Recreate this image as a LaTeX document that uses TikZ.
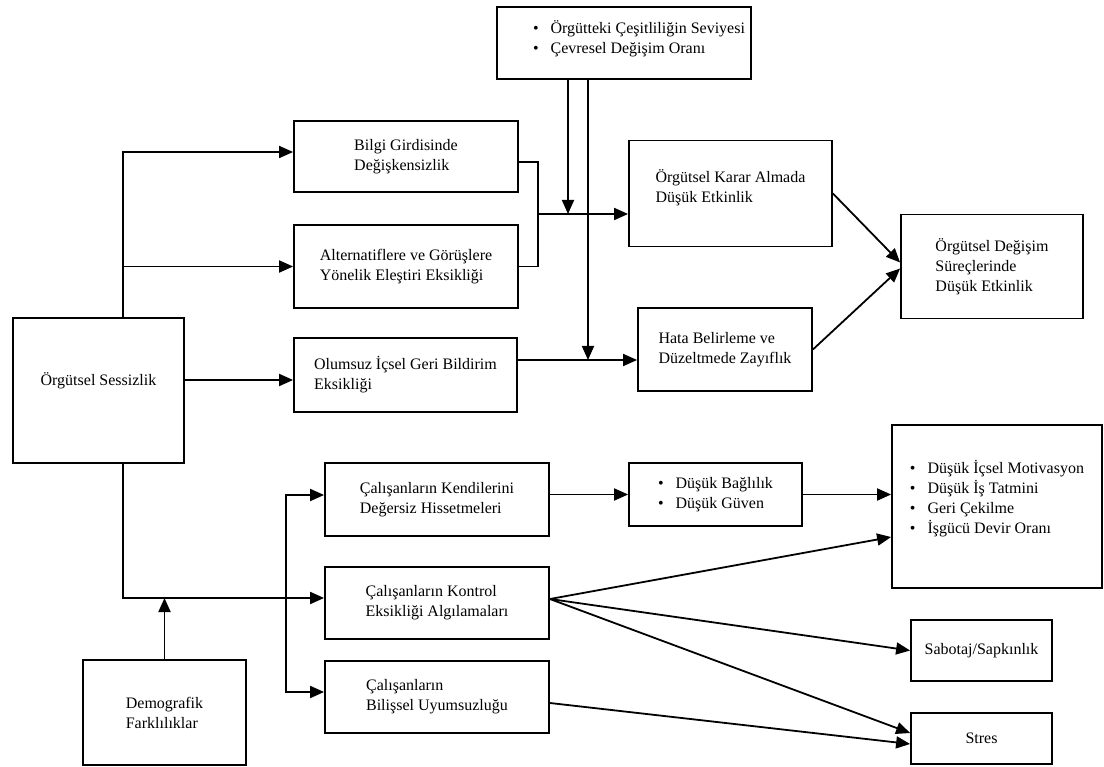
\documentclass[tikz,border=0pt]{standalone}
\usepackage{fontspec}
\setmainfont{Liberation Serif}
\usetikzlibrary{arrows.meta, calc}
\newcommand{\madde}{\textbullet\hspace{12pt}}

\begin{document}
\begin{tikzpicture}[x=1pt, y=-1pt, >={Triangle[length=14pt, width=12pt]}, line width=1.8pt, every node/.style={font=\fontsize{16}{20}\selectfont}, kutu/.style={draw, align=left, inner sep=2pt}]
  \useasboundingbox (0,0) rectangle (1104,767);
  \node[kutu, minimum width=254pt, minimum height=72pt, text depth=12pt] (ortam) at (624,43) {\hspace*{30pt}\madde Örgütteki Çeşitliliğin Seviyesi\\\hspace*{30pt}\madde Çevresel Değişim Oranı};
  \node[kutu, minimum width=224pt, minimum height=71pt] (bilgi) at (406,156.5) {Bilgi Girdisinde\\Değişkensizlik};
  \node[kutu, minimum width=224pt, minimum height=83pt] (alt) at (406,266.5) {Alternatiflere ve Görüşlere\\Yönelik Eleştiri Eksikliği};
  \node[kutu, minimum width=223pt, minimum height=74pt] (olum) at (405.5,375) {Olumsuz İçsel Geri Bildirim\\Eksikliği};
  \node[kutu, minimum width=171pt, minimum height=145pt, text depth=23pt] (sess) at (98.5,390.5) {Örgütsel Sessizlik};
  \node[kutu, minimum width=203pt, minimum height=106pt, text depth=15pt] (karar) at (730.5,193.5) {Örgütsel Karar Almada\\Düşük Etkinlik};
  \node[kutu, minimum width=174pt, minimum height=83pt] (hata) at (725,349.5) {Hata Belirleme ve\\Düzeltmede Zayıflık};
  \node[kutu, minimum width=182pt, minimum height=104pt] (degisim) at (992,266.5) {Örgütsel Değişim\\Süreçlerinde\\Düşük Etkinlik};
  \node[kutu, minimum width=224pt, minimum height=73pt] (kendi) at (437,499.5) {Çalışanların Kendilerini\\Değersiz Hissetmeleri};
  \node[kutu, minimum width=224pt, minimum height=72pt] (kontrol) at (437,603) {Çalışanların Kontrol\\Eksikliği Algılamaları};
  \node[kutu, minimum width=224pt, minimum height=72pt] (bilissel) at (437,697) {Çalışanların\\Bilişsel Uyumsuzluğu};
  \node[kutu, minimum width=163pt, minimum height=105pt] (demo) at (164.5,712.5) {Demografik\\Farklılıklar};
  \node[kutu, minimum width=173pt, minimum height=63pt] (bag) at (715.5,494.5) {\madde Düşük Bağlılık\\\madde Düşük Güven};
  \node[kutu, minimum width=210pt, minimum height=163pt, text depth=20pt] (motiv) at (997,506.5) {\madde Düşük İçsel Motivasyon\\\madde Düşük İş Tatmini\\\madde Geri Çekilme\\\madde İşgücü Devir Oranı};
  \node[kutu, minimum width=141pt, minimum height=61pt] (sabotaj) at (981.5,650.5) {Sabotaj/Sapkınlık};
  \node[kutu, minimum width=141pt, minimum height=51pt] (stres) at (981.5,738.5) {Stres};

  \coordinate (sol) at (123,152);
  \coordinate (kol) at (538,214);
  \coordinate (dik1) at (568,214);
  \coordinate (dik2) at (588,360);
  \coordinate (dal) at (286,598);

  \draw[->] (sess.north -| sol) |- (sol -| bilgi.west);
  \draw[->] (sol |- alt.west) -- (alt.west);
  \draw[->] ($(sess.east)+(0,-10.5)$) -- ($(olum.west)+(0,5)$);
  \draw ($(bilgi.east)+(0,5.5)$) -| (kol) |- (alt.east);
  \draw[->] (kol) -- (kol -| karar.west);
  \draw[->] (ortam.south -| dik1) -- (dik1);
  \draw[->] (ortam.south -| dik2) -- (dik2);
  \draw[->] (olum.east |- dik2) -- (hata.west |- dik2);
  \draw[->] (karar.east) -- ($(degisim.west)+(0,-4)$);
  \draw[->] (hata.east) -- ($(degisim.west)+(0,2)$);
  \draw[->] (sess.south -| sol) |- ($(kontrol.west)+(0,-5)$);
  \draw[->] (demo.north) -- (demo.north |- dal);
  \draw[->] (dal) |- ($(kendi.west)+(0,-4.5)$);
  \draw[->] (dal) |- ($(bilissel.west)+(0,-5)$);
  \draw[->] (kendi.east |- bag.west) -- (bag.west);
  \draw[->] (bag.east) -- (bag.east -| motiv.west);
  \draw[->] ($(kontrol.east)+(0,-4)$) -- ($(motiv.west)+(0,30.5)$);
  \draw[->] ($(kontrol.east)+(0,-4)$) -- (sabotaj.west);
  \draw[->] ($(kontrol.east)+(0,-4)$) -- ($(stres.west)+(0,-5.5)$);
  \draw[->] ($(bilissel.east)+(0,6)$) -- ($(stres.west)+(0,5.5)$);
\end{tikzpicture}
\end{document}
